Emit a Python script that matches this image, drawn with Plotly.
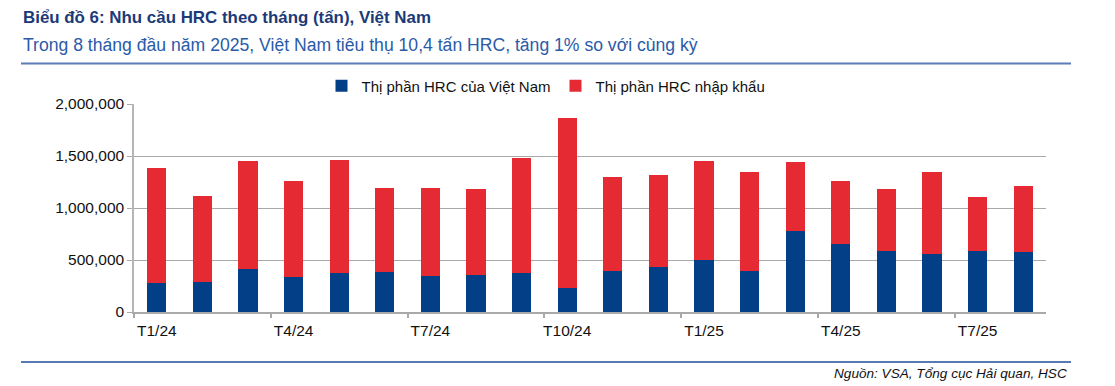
import plotly.graph_objects as go

months = ["T1/24", "T2/24", "T3/24", "T4/24", "T5/24", "T6/24", "T7/24", "T8/24",
          "T9/24", "T10/24", "T11/24", "T12/24", "T1/25", "T2/25", "T3/25", "T4/25",
          "T5/25", "T6/25", "T7/25", "T8/25"]
domestic = [275000, 291000, 416000, 339000, 378000, 387000, 349000, 358000, 378000, 234000,
            397000, 435000, 502000, 397000, 781000, 656000, 589000, 560000, 589000, 579000]
imported = [1111000, 826000, 1037000, 922000, 1084000, 807000, 845000, 826000, 1104000, 1632000,
            902000, 883000, 951000, 950000, 662000, 605000, 595000, 787000, 518000, 634000]
tick_labels = months[::3]
y_ticks = [0, 500000, 1000000, 1500000, 2000000]

# page is 1115x386; the browser body has an 8px margin at top/left
W, H = 1115, 386
OFF = 8
FW, FH = W - OFF, H - OFF
L, R, T, B = 134, 1046, 104, 312
pw, ph = R - L, B - T

def px(x):
    return (x - L) / pw

def py(y):
    return (B - y) / ph

FONT = "Liberation Sans, Arial, sans-serif"
BLUE = "#033F86"
RED = "#E52A33"
GRID = "#A9A9A9"

fig = go.Figure()
fig.add_trace(go.Bar(x=months, y=domestic, name="Thị phần HRC của Việt Nam",
                     marker=dict(color=BLUE, line=dict(width=0))))
fig.add_trace(go.Bar(x=months, y=imported, name="Thị phần HRC nhập khẩu",
                     marker=dict(color=RED, line=dict(width=0))))

n = len(months)
boundary_ticks = [i - 0.5 for i in range(0, n, 3)]

fig.update_layout(
    width=FW, height=FH,
    margin=dict(l=L - OFF, r=FW - (R - OFF), t=T - OFF, b=FH - (B - OFF), pad=0),
    barmode="stack",
    bargap=0.58,
    plot_bgcolor="white",
    paper_bgcolor="white",
    font=dict(family=FONT, size=15.5, color="#111111"),
    showlegend=True,
    legend=dict(orientation="h", x=px(546), xanchor="center", y=py(86), yanchor="middle",
                font=dict(size=15, color="#111111"), traceorder="normal",
                itemwidth=30, tracegroupgap=0, bgcolor="rgba(0,0,0,0)"),
    xaxis=dict(type="category", categoryorder="array", categoryarray=months,
               tickmode="array", tickvals=tick_labels, ticktext=tick_labels,
               ticks="", showgrid=False, showline=True, linecolor=GRID, linewidth=1.5,
               range=[-0.5, n - 0.5], tickfont=dict(size=15.5, color="#111111"),
               ticklabelstandoff=4),
    xaxis2=dict(overlaying="x", anchor="y", side="bottom", range=[-0.5, n - 0.5],
                tickmode="array", tickvals=boundary_ticks, ticks="outside", ticklen=5,
                tickcolor=GRID, tickwidth=1.5, showticklabels=False, showgrid=False,
                showline=False, zeroline=False),
    yaxis=dict(range=[0, 2000000], tickmode="array", tickvals=y_ticks,
               tickformat=",d", showgrid=True, gridcolor=GRID, gridwidth=1.2,
               showline=True, linecolor="#B5B5B5", linewidth=1.5,
               ticks="outside", ticklen=5, tickcolor=GRID, zeroline=False,
               tickfont=dict(size=15.5, color="#111111")),
)
# invisible helper trace to activate the boundary-tick axis
fig.add_trace(go.Scatter(x=[boundary_ticks[0]], y=[0], xaxis="x2", yaxis="y",
                         mode="markers", marker=dict(opacity=0), showlegend=False,
                         hoverinfo="skip"))

fig.add_annotation(text="<b>Biểu đồ 6: Nhu cầu HRC theo tháng (tấn), Việt Nam</b>",
                   xref="paper", yref="paper", x=px(21), y=py(18), xanchor="left",
                   yanchor="middle", showarrow=False,
                   font=dict(family=FONT, size=16.9, color="#1B3A78"))
fig.add_annotation(text="Trong 8 tháng đầu năm 2025, Việt Nam tiêu thụ 10,4 tấn HRC, tăng 1% so với cùng kỳ",
                   xref="paper", yref="paper", x=px(21), y=py(45), xanchor="left",
                   yanchor="middle", showarrow=False,
                   font=dict(family=FONT, size=17.6, color="#2A5BA8"))
fig.add_annotation(text="<i>Nguồn: VSA, Tổng cục Hải quan, HSC</i>",
                   xref="paper", yref="paper", x=px(1069), y=py(373), xanchor="right",
                   yanchor="middle", showarrow=False,
                   font=dict(family=FONT, size=13.6, color="#111111"))

fig.add_shape(type="line", xref="paper", yref="paper", x0=px(21), x1=px(1071),
              y0=py(63.5), y1=py(63.5), line=dict(color="#5A7DB8", width=2))
fig.add_shape(type="line", xref="paper", yref="paper", x0=px(21), x1=px(1071),
              y0=py(362), y1=py(362), line=dict(color="#1F4E9A", width=1.5))

fig.write_html("out.html")
